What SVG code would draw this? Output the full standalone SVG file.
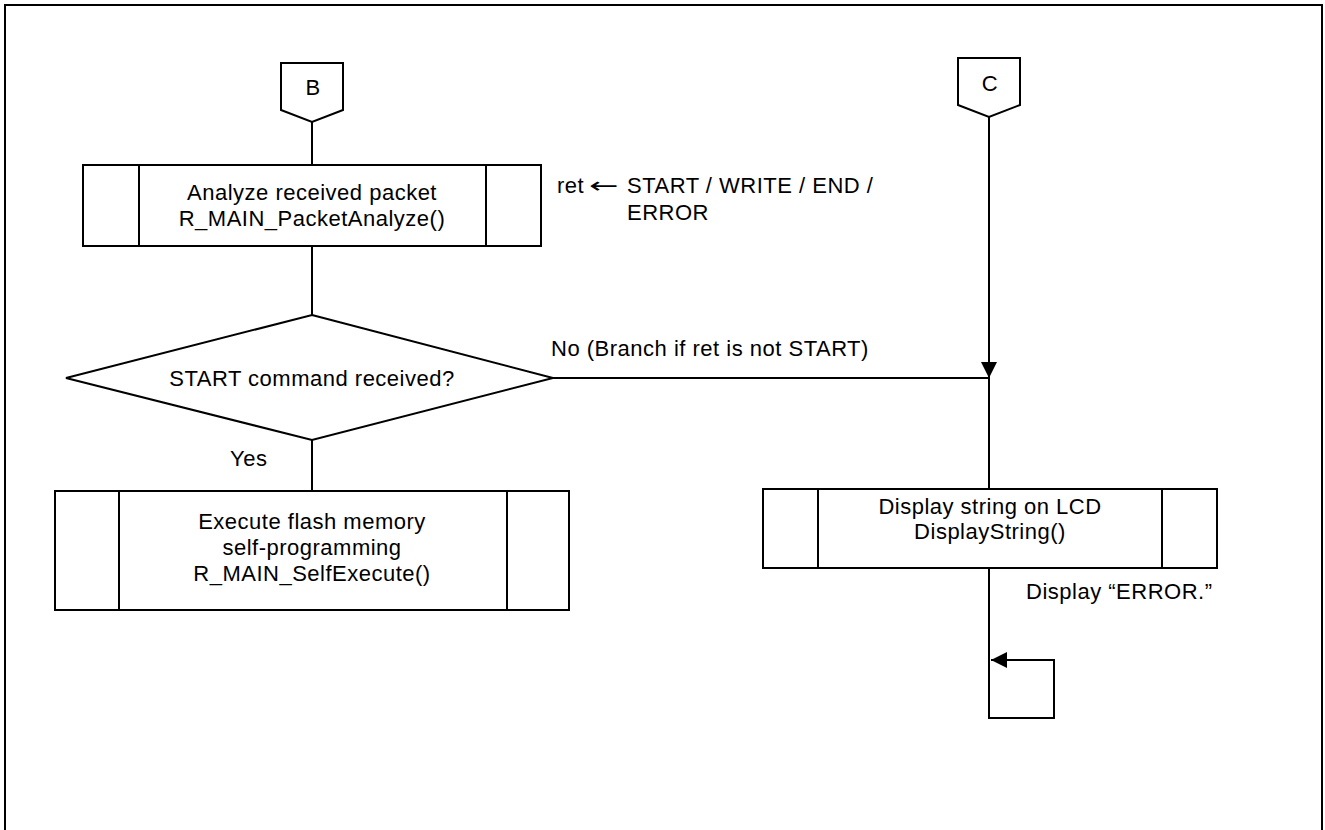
<svg xmlns="http://www.w3.org/2000/svg" width="1325" height="830" viewBox="0 0 1325 830">
<defs>
<style>
.s{fill:#fff;stroke:#000;stroke-width:2}
.l{fill:none;stroke:#000;stroke-width:2}
text{font-family:"Liberation Sans",Arial,sans-serif;font-size:22px;fill:#000;letter-spacing:0.5px}
.c{text-anchor:middle}
.arr{font-family:"DejaVu Sans","Liberation Sans",sans-serif;letter-spacing:0}
</style>
<marker id="ah" viewBox="0 0 16 16" refX="16" refY="8" markerWidth="16" markerHeight="16" markerUnits="userSpaceOnUse" orient="auto">
<path d="M0,0 L16,8 L0,16 Z" fill="#000"/>
</marker>
</defs>
<rect x="0" y="0" width="1325" height="830" fill="#fff"/>
<rect x="5" y="5" width="1317" height="840" fill="none" stroke="#000" stroke-width="2"/>

<g id="connectors">
<line class="l" x1="312" y1="122" x2="312" y2="165"/>
<line class="l" x1="312" y1="246" x2="312" y2="315"/>
<line class="l" x1="312" y1="440" x2="312" y2="491"/>
<line class="l" x1="989" y1="117" x2="989" y2="378" marker-end="url(#ah)"/>
<line class="l" x1="553" y1="378" x2="989" y2="378"/>
<line class="l" x1="989" y1="378" x2="989" y2="489"/>
<polyline class="l" points="989,568 989,718 1054,718 1054,660 991,660" marker-end="url(#ah)"/>
</g>

<g id="connB">
<polygon class="s" points="281,63 343,63 343,110 312,122 281,110"/>
<text class="c" x="313" y="95">B</text>
</g>

<g id="connC">
<polygon class="s" points="958,58 1020,58 1020,105 989,117 958,105"/>
<text class="c" x="990" y="91">C</text>
</g>

<g id="analyze">
<rect class="s" x="83" y="165" width="458" height="81"/>
<line class="l" x1="139" y1="165" x2="139" y2="246"/>
<line class="l" x1="486" y1="165" x2="486" y2="246"/>
<text class="c" x="312" y="200">Analyze received packet</text>
<text class="c" x="312" y="226">R_MAIN_PacketAnalyze()</text>
</g>

<g id="retnote">
<text x="557" y="193">ret</text>
<text class="arr" transform="translate(589,193) scale(1.6,1)">←</text>
<text x="627" y="193">START / WRITE / END /</text>
<text x="627" y="220">ERROR</text>
</g>

<g id="decision">
<polygon class="s" points="312,315 553,378 312,440 66,378"/>
<text class="c" x="312" y="386">START command received?</text>
</g>

<g id="labels">
<text x="551" y="356">No (Branch if ret is not START)</text>
<text x="230" y="466">Yes</text>
</g>

<g id="execute">
<rect class="s" x="55" y="491" width="514" height="119"/>
<line class="l" x1="119" y1="491" x2="119" y2="610"/>
<line class="l" x1="507" y1="491" x2="507" y2="610"/>
<text class="c" x="312" y="529">Execute flash memory</text>
<text class="c" x="312" y="555">self-programming</text>
<text class="c" x="312" y="581">R_MAIN_SelfExecute()</text>
</g>

<g id="display">
<rect class="s" x="763" y="489" width="454" height="79"/>
<line class="l" x1="818" y1="489" x2="818" y2="568"/>
<line class="l" x1="1162" y1="489" x2="1162" y2="568"/>
<text class="c" x="990" y="514">Display string on LCD</text>
<text class="c" x="990" y="539">DisplayString()</text>
</g>

<g id="errnote">
<text x="1026" y="599">Display “ERROR.”</text>
</g>
</svg>
